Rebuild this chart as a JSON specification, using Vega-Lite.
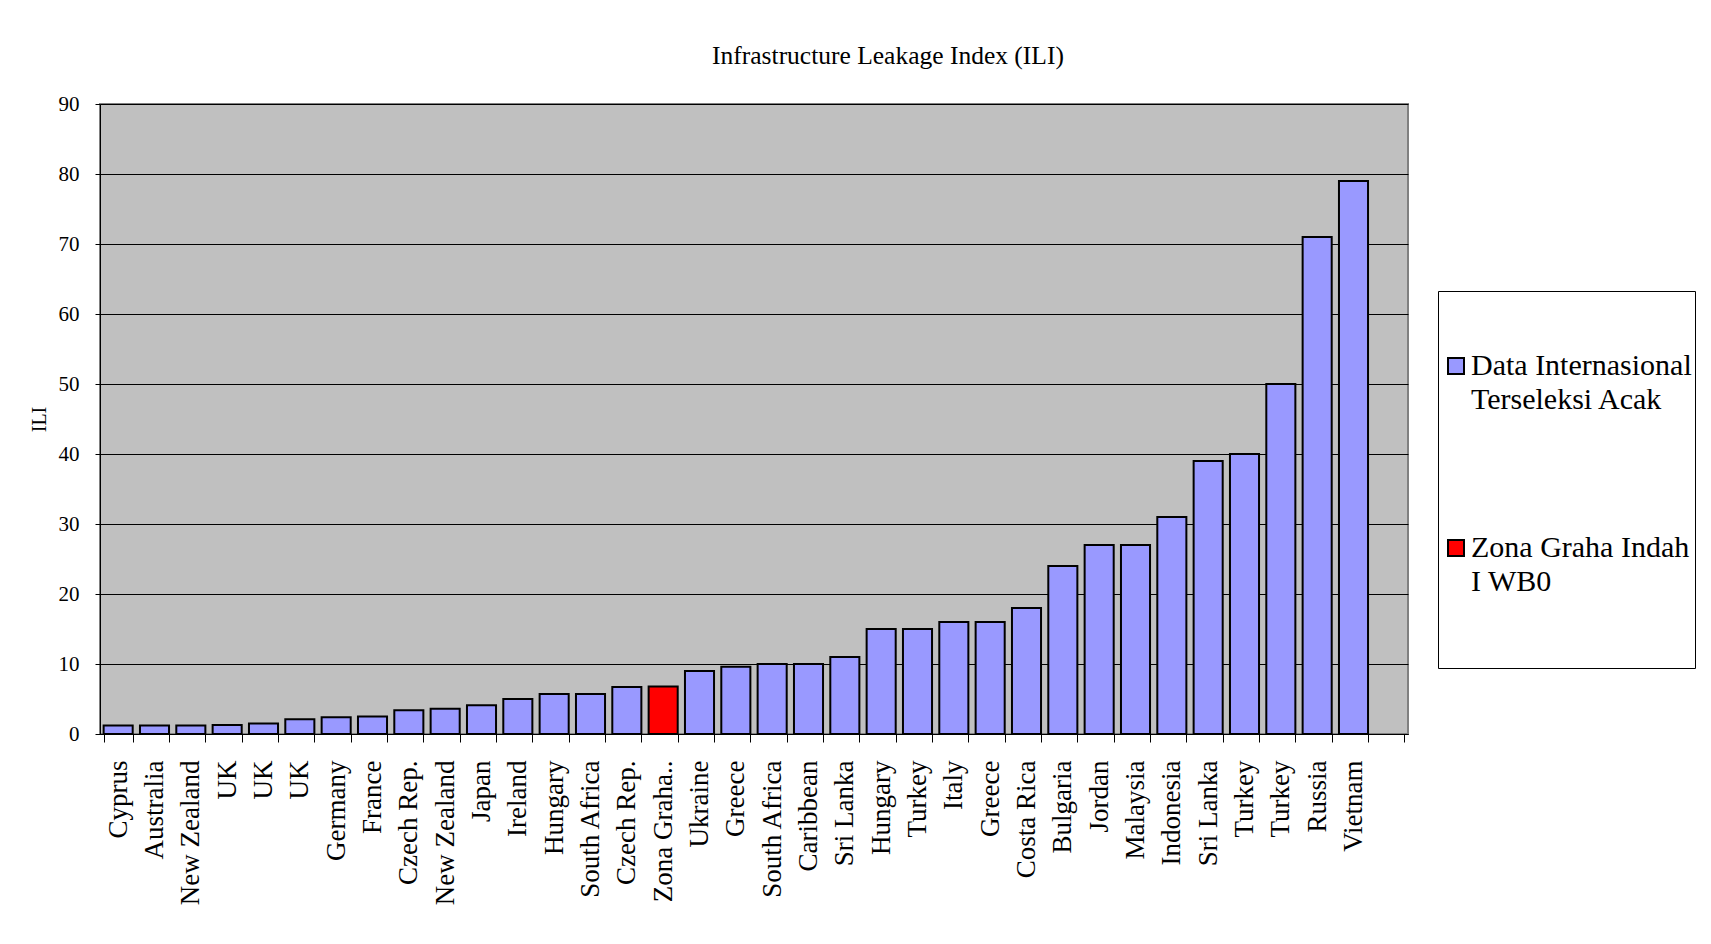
{
  "$schema": "https://vega.github.io/schema/vega-lite/v6.json",
  "width": 1308,
  "height": 630,
  "autosize": {"type": "none"},
  "padding": {"left": 100, "top": 104, "right": 303, "bottom": 210},
  "background": "white",
  "title": {
    "text": "Infrastructure Leakage Index (ILI)",
    "font": "Liberation Serif",
    "fontSize": 25.5,
    "fontWeight": "normal",
    "color": "black",
    "anchor": "middle",
    "baseline": "alphabetic",
    "offset": 41,
    "dx": 134,
    "dy": 37
  },
  "config": {
    "font": "Liberation Serif",
    "view": {"fill": "#C0C0C0", "stroke": "#808080", "strokeWidth": 2},
    "style": {"guide-label": {"lineHeight": 34}}
  },
  "data": {
    "values": [
      {"key": "01|Cyprus", "ili": 1.2, "group": "Data Internasional Terseleksi Acak"},
      {"key": "02|Australia", "ili": 1.2, "group": "Data Internasional Terseleksi Acak"},
      {"key": "03|New Zealand", "ili": 1.2, "group": "Data Internasional Terseleksi Acak"},
      {"key": "04|UK", "ili": 1.3, "group": "Data Internasional Terseleksi Acak"},
      {"key": "05|UK", "ili": 1.5, "group": "Data Internasional Terseleksi Acak"},
      {"key": "06|UK", "ili": 2.1, "group": "Data Internasional Terseleksi Acak"},
      {"key": "07|Germany", "ili": 2.4, "group": "Data Internasional Terseleksi Acak"},
      {"key": "08|France", "ili": 2.5, "group": "Data Internasional Terseleksi Acak"},
      {"key": "09|Czech Rep.", "ili": 3.4, "group": "Data Internasional Terseleksi Acak"},
      {"key": "10|New Zealand", "ili": 3.6, "group": "Data Internasional Terseleksi Acak"},
      {"key": "11|Japan", "ili": 4.1, "group": "Data Internasional Terseleksi Acak"},
      {"key": "12|Ireland", "ili": 5.0, "group": "Data Internasional Terseleksi Acak"},
      {"key": "13|Hungary", "ili": 5.7, "group": "Data Internasional Terseleksi Acak"},
      {"key": "14|South Africa", "ili": 5.7, "group": "Data Internasional Terseleksi Acak"},
      {"key": "15|Czech Rep.", "ili": 6.7, "group": "Data Internasional Terseleksi Acak"},
      {"key": "16|Zona Graha..", "ili": 6.8, "group": "Zona Graha Indah I WB0"},
      {"key": "17|Ukraine", "ili": 9.0, "group": "Data Internasional Terseleksi Acak"},
      {"key": "18|Greece", "ili": 9.6, "group": "Data Internasional Terseleksi Acak"},
      {"key": "19|South Africa", "ili": 10, "group": "Data Internasional Terseleksi Acak"},
      {"key": "20|Caribbean", "ili": 10, "group": "Data Internasional Terseleksi Acak"},
      {"key": "21|Sri Lanka", "ili": 11, "group": "Data Internasional Terseleksi Acak"},
      {"key": "22|Hungary", "ili": 15, "group": "Data Internasional Terseleksi Acak"},
      {"key": "23|Turkey", "ili": 15, "group": "Data Internasional Terseleksi Acak"},
      {"key": "24|Italy", "ili": 16, "group": "Data Internasional Terseleksi Acak"},
      {"key": "25|Greece", "ili": 16, "group": "Data Internasional Terseleksi Acak"},
      {"key": "26|Costa Rica", "ili": 18, "group": "Data Internasional Terseleksi Acak"},
      {"key": "27|Bulgaria", "ili": 24, "group": "Data Internasional Terseleksi Acak"},
      {"key": "28|Jordan", "ili": 27, "group": "Data Internasional Terseleksi Acak"},
      {"key": "29|Malaysia", "ili": 27, "group": "Data Internasional Terseleksi Acak"},
      {"key": "30|Indonesia", "ili": 31, "group": "Data Internasional Terseleksi Acak"},
      {"key": "31|Sri Lanka", "ili": 39, "group": "Data Internasional Terseleksi Acak"},
      {"key": "32|Turkey", "ili": 40, "group": "Data Internasional Terseleksi Acak"},
      {"key": "33|Turkey", "ili": 50, "group": "Data Internasional Terseleksi Acak"},
      {"key": "34|Russia", "ili": 71, "group": "Data Internasional Terseleksi Acak"},
      {"key": "35|Vietnam", "ili": 79, "group": "Data Internasional Terseleksi Acak"}
    ]
  },
  "mark": {"type": "bar", "stroke": "black", "strokeWidth": 2, "strokeJoin": "miter"},
  "encoding": {
    "x": {
      "field": "key",
      "type": "nominal",
      "sort": null,
      "scale": {
        "domain": ["01|Cyprus","02|Australia","03|New Zealand","04|UK","05|UK","06|UK","07|Germany","08|France","09|Czech Rep.","10|New Zealand","11|Japan","12|Ireland","13|Hungary","14|South Africa","15|Czech Rep.","16|Zona Graha..","17|Ukraine","18|Greece","19|South Africa","20|Caribbean","21|Sri Lanka","22|Hungary","23|Turkey","24|Italy","25|Greece","26|Costa Rica","27|Bulgaria","28|Jordan","29|Malaysia","30|Indonesia","31|Sri Lanka","32|Turkey","33|Turkey","34|Russia","35|Vietnam","36|"],
        "paddingInner": 0.2,
        "paddingOuter": 0.1
      },
      "axis": {
        "title": null,
        "labelExpr": "split(datum.label, '|')[1]",
        "labelAngle": -90,
        "labelAlign": "right",
        "labelBaseline": "middle",
        "labelFontSize": 27,
        "labelColor": "black",
        "labelPadding": 18,
        "labelLimit": 400,
        "tickBand": "extent",
        "tickSize": 8,
        "tickColor": "black",
        "domainColor": "black",
        "domainWidth": 1,
        "grid": false
      }
    },
    "y": {
      "field": "ili",
      "type": "quantitative",
      "scale": {"domain": [0, 90], "nice": false},
      "axis": {
        "title": "ILI",
        "titleFontSize": 20,
        "titleFontWeight": "normal",
        "titleColor": "black",
        "titleAngle": -90,
        "titleAlign": "center",
        "titleBaseline": "middle",
        "titleX": -61,
        "titleY": 315,
        "values": [0,10,20,30,40,50,60,70,80,90],
        "labelFontSize": 21,
        "labelColor": "black",
        "labelPadding": 16,
        "tickSize": 5,
        "tickColor": "black",
        "domainColor": "black",
        "domainWidth": 1,
        "grid": true,
        "gridColor": "black",
        "gridWidth": 1
      }
    },
    "color": {
      "field": "group",
      "type": "nominal",
      "scale": {
        "domain": ["Data Internasional Terseleksi Acak", "Zona Graha Indah I WB0"],
        "range": ["#9999FF", "#FF0000"]
      },
      "legend": {
        "title": " ",
        "titleFontSize": 40,
        "titlePadding": 17,
        "orient": "none",
        "legendX": 1338,
        "legendY": 187,
        "direction": "vertical",
        "fillColor": "white",
        "strokeColor": "black",
        "padding": 3,
        "symbolType": "square",
        "symbolSize": 256,
        "symbolStrokeColor": "black",
        "symbolStrokeWidth": 2,
        "labelFontSize": 30,
        "labelColor": "black",
        "labelOffset": 0,
        "labelLimit": 400,
        "labelBaseline": "middle",
        "labelExpr": "datum.value == 'Zona Graha Indah I WB0' ? ['Zona Graha Indah', 'I WB0', ' ', ' '] : ['Data Internasional', 'Terseleksi Acak']",
        "rowPadding": 118
      }
    }
  }
}
